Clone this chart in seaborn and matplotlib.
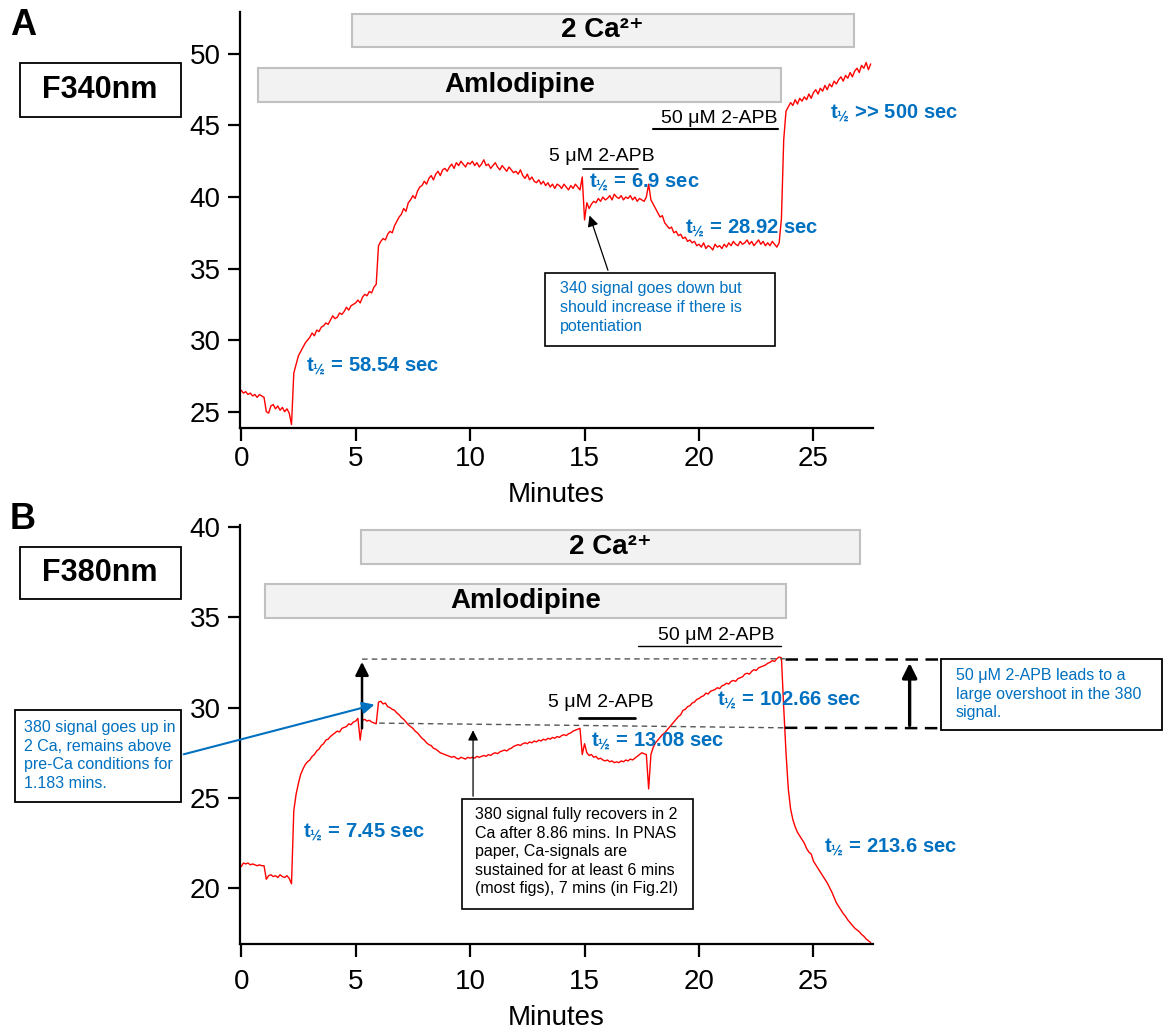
import numpy as np
import pandas as pd
import matplotlib
matplotlib.use("Agg")
import matplotlib.pyplot as plt
from matplotlib.patches import Rectangle
import seaborn as sns

sns.set_style("ticks")
plt.rcParams['font.family'] = ['Liberation Sans', 'DejaVu Sans']
plt.rcParams['mathtext.fontset'] = 'custom'
plt.rcParams['mathtext.rm'] = 'Liberation Sans'
plt.rcParams['mathtext.bf'] = 'Liberation Sans:bold'
plt.rcParams['text.color'] = 'black'
plt.rcParams['axes.labelcolor'] = 'black'
plt.rcParams['xtick.color'] = 'black'
plt.rcParams['ytick.color'] = 'black'

# --- data --- #
minutes = np.round(np.arange(0, 27.55, 0.1), 1)

f340 = [
    26.5, 26.3, 26.4, 26.2, 26.3, 26.1, 26.2, 26.0, 26.2, 26.1,
    26.0, 25.0, 24.9, 25.4, 25.5, 25.2, 25.4, 25.1, 25.3, 25.0,
    25.2, 24.9, 24.1, 27.7, 28.3, 28.9, 29.2, 29.5, 29.8, 30.0,
    30.2, 30.5, 30.3, 30.7, 30.6, 30.9, 31.0, 31.2, 31.1, 31.4,
    31.7, 31.5, 31.6, 31.9, 31.8, 32.0, 32.3, 32.1, 32.4, 32.5,
    32.6, 32.8, 32.6, 33.0, 33.2, 33.1, 33.4, 33.3, 33.7, 33.9,
    36.6, 36.9, 37.1, 37.0, 37.4, 37.6, 37.5, 38.0, 38.3, 38.6,
    38.8, 39.2, 39.0, 39.6, 39.8, 40.1, 39.9, 40.4, 40.7, 40.8,
    41.1, 40.9, 41.3, 41.5, 41.2, 41.6, 41.8, 41.5, 41.9, 42.0,
    41.8, 42.1, 42.3, 42.0, 42.4, 42.2, 42.5, 42.3, 42.1, 42.4,
    42.3, 42.5, 42.2, 42.4, 42.1, 42.3, 42.6, 42.2, 42.3, 42.0,
    42.2, 42.4, 42.1, 41.9, 42.2, 42.0, 41.8, 42.1, 41.9, 41.7,
    41.8, 41.6, 41.9, 41.5, 41.3, 41.6, 41.2, 41.4, 41.1, 41.0,
    41.2, 40.9, 41.1, 40.8, 41.0, 40.7, 40.9, 40.6, 40.9, 40.8,
    40.6, 40.9, 40.7, 40.5, 40.8, 40.6, 40.9, 40.7, 40.5, 41.4,
    38.4, 39.6, 39.2, 39.5, 39.7, 39.6, 39.9, 39.7, 40.0, 39.8,
    39.9, 40.1, 39.8, 40.2, 40.0, 39.9, 40.1, 39.8, 40.0, 39.9,
    40.1, 39.8, 40.0, 39.7, 39.9, 39.8, 39.7, 40.0, 40.9, 39.8,
    39.5, 39.2, 38.9, 38.6, 38.7, 38.2, 38.0, 37.8, 37.9, 37.5,
    37.6, 37.3, 37.4, 37.1, 37.2, 36.9, 37.0, 36.8, 36.9, 36.6,
    36.7, 36.5, 36.8, 36.4, 36.6, 36.5, 36.3, 36.7, 36.5, 36.6,
    36.4, 36.7, 36.5, 36.8, 36.6, 36.9, 36.7, 36.6, 36.9, 36.7,
    36.8, 37.0, 36.7, 36.9, 36.6, 36.8, 37.0, 36.7, 36.9, 36.6,
    36.8, 36.6, 36.9, 36.7, 36.5, 36.8, 38.5, 44.0, 46.0, 46.3,
    46.6, 46.4, 46.8, 46.5, 46.9, 46.7, 47.0, 46.8, 47.2, 46.9,
    47.3, 47.5, 47.2, 47.6, 47.4, 47.8, 47.5, 47.9, 47.7, 48.1,
    47.9, 48.2, 48.4, 48.1, 48.5, 48.3, 48.7, 48.4, 48.8, 49.0,
    48.7, 49.2, 49.0, 49.4, 48.9, 49.3,
]

f380 = [
    21.2, 21.4, 21.35, 21.4, 21.3, 21.35, 21.3, 21.25, 21.3, 21.25,
    21.25, 20.5, 20.7, 20.75, 20.65, 20.7, 20.6, 20.75, 20.65, 20.6,
    20.7, 20.55, 20.25, 24.3, 25.2, 25.8, 26.3, 26.6, 26.85, 27.0,
    27.1, 27.3, 27.4, 27.6, 27.7, 27.9, 28.0, 28.2, 28.25, 28.4,
    28.5, 28.6, 28.7, 28.65, 28.85, 28.9, 28.95, 29.1, 29.05, 29.2,
    29.25, 29.4, 28.2, 29.3, 29.35, 29.25, 29.3, 29.2, 29.15, 29.1,
    30.3, 30.35, 30.2, 30.25, 30.05, 30.0, 29.9, 29.85, 29.7, 29.6,
    29.45, 29.35, 29.2, 29.05, 28.95, 28.85, 28.7, 28.6, 28.45, 28.3,
    28.2, 28.05, 27.95, 27.9, 27.75, 27.7, 27.6, 27.5, 27.45, 27.4,
    27.35, 27.3, 27.25, 27.3, 27.2, 27.15, 27.25, 27.2, 27.15, 27.25,
    27.2, 27.25, 27.2, 27.3, 27.25, 27.3, 27.35, 27.3, 27.4, 27.35,
    27.45, 27.5, 27.45, 27.55, 27.6, 27.65, 27.6, 27.7, 27.75, 27.85,
    27.9, 27.95, 27.9, 28.0, 28.05, 28.0, 28.1, 28.05, 28.15, 28.1,
    28.2, 28.15, 28.25, 28.2, 28.3, 28.25, 28.35, 28.3, 28.4, 28.35,
    28.45, 28.5, 28.45, 28.55, 28.6, 28.7, 28.75, 28.8, 28.85, 27.4,
    28.0, 27.5, 27.35, 27.4, 27.25, 27.3, 27.15, 27.2, 27.1, 27.05,
    27.1, 27.0, 27.05, 26.95, 27.0, 26.95, 27.05, 27.0, 27.1, 27.05,
    27.15, 27.1, 27.2, 27.3, 27.4, 27.5, 27.45, 27.4, 25.5, 27.4,
    27.8, 28.05, 28.2, 28.35, 28.5, 28.6, 28.75, 28.9, 29.05, 29.2,
    29.35, 29.5, 29.6, 29.85, 29.9, 30.05, 30.1, 30.25, 30.3, 30.45,
    30.5, 30.6, 30.65, 30.8, 30.75, 30.9, 30.95, 31.0, 31.1, 31.05,
    31.2, 31.25, 31.35, 31.3, 31.45, 31.5, 31.45, 31.6, 31.65, 31.7,
    31.85, 31.9, 31.85, 32.0, 32.1, 32.05, 32.2, 32.25, 32.3, 32.35,
    32.45, 32.5, 32.6, 32.55, 32.7, 32.8, 32.75, 30.0, 27.5, 25.5,
    24.4, 23.8, 23.4, 23.1, 22.9, 22.7, 22.5, 22.2, 22.0, 21.9,
    21.5, 21.3, 21.1, 20.9, 20.7, 20.5, 20.3, 20.05, 19.8, 19.5,
    19.2, 19.0, 18.8, 18.6, 18.45, 18.25, 18.1, 17.95, 17.8, 17.7,
    17.6, 17.45, 17.35, 17.2, 17.1, 17.0,
]

x_ticks = [0, 5, 10, 15, 20, 25]
a_yticks = [25, 30, 35, 40, 45, 50]
b_yticks = [20, 25, 30, 35, 40]

df = pd.DataFrame({'Minutes': minutes, 'F340': f340, 'F380': f380})

BLUE = '#0070C0'
W, H = 1168, 1036


def fp(x, y):
    # figure pixel -> figure fraction
    return x / W, 1 - y / H


def gray_bar(ax, x0, x1, y0, y1, label):
    ax.add_patch(Rectangle((x0, y0), x1 - x0, y1 - y0, fc='#f2f2f2', ec='#c0c0c0',
                           lw=1.5, clip_on=False, zorder=1))
    ax.text((x0 + x1) / 2, (y0 + y1) / 2, label, ha='center', va='center',
            fontsize=20, fontweight='bold', zorder=2)


def fig_box(fig, x0, y0, x1, y1):
    fx, fy = fp(x0, y1)
    fig.add_artist(Rectangle((fx, fy), (x1 - x0) / W, (y1 - y0) / H, fc='white',
                             ec='black', lw=1.3, transform=fig.transFigure))


def half(val):
    return 't$_{\\mathbf{½}}$' + val


fig = plt.figure(figsize=(W / 100, H / 100), dpi=100)
axA = fig.add_axes([240 / W, 1 - 428 / H, 633 / W, 416 / H])
axB = fig.add_axes([240 / W, 1 - 944 / H, 633 / W, 419 / H])

sns.lineplot(data=df, x='Minutes', y='F340', ax=axA, color='red', lw=1.0, estimator=None)
sns.lineplot(data=df, x='Minutes', y='F380', ax=axB, color='red', lw=1.0, estimator=None)

for ax, yt in [(axA, a_yticks), (axB, b_yticks)]:
    sns.despine(ax=ax)
    for s in ['left', 'bottom']:
        ax.spines[s].set_linewidth(1.6)
        ax.spines[s].set_color('black')
    ax.set_xticks(x_ticks)
    ax.set_yticks(yt)
    ax.tick_params(axis='both', length=9, width=1.6, labelsize=20, color='black',
                   labelcolor='black')
    ax.tick_params(axis='y', pad=5)
    ax.set_ylabel('')
    ax.set_xlim(-0.05, 27.6)
    ax.set_xlabel('Minutes', fontsize=20, labelpad=7, color='black')

axA.tick_params(axis='x', pad=4)
axB.tick_params(axis='x', pad=9)
axA.set_ylim(23.86, 52.93)
axB.set_ylim(16.92, 40.1)

CA = '2 Ca²⁺'

# --- Panel A --- #
gray_bar(axA, 4.84, 26.75, 50.49, 52.8, CA)
gray_bar(axA, 0.74, 23.56, 46.65, 49.02, 'Amlodipine')

axA.text(15.75, 42.8, '5 μM 2-APB', ha='center', va='center', fontsize=14)
axA.plot([14.92, 17.32], [41.96, 41.96], color='black', lw=1.2)
axA.text(20.9, 45.46, '50 μM 2-APB', ha='center', va='center', fontsize=14)
axA.plot([17.98, 23.47], [44.76, 44.76], color='black', lw=1.5)

for x, y, s in [(15.18, 41.06, ' = 6.9 sec'), (19.37, 37.84, ' = 28.92 sec'),
                (25.7, 45.88, ' >> 500 sec'), (2.84, 28.2, ' = 58.54 sec')]:
    axA.text(x, y, half(s), color=BLUE, fontsize=14.5, fontweight='bold',
             ha='left', va='center', clip_on=False)

axA.add_patch(Rectangle((13.26, 29.6), 10.08, 5.1, fc='white', ec='black', lw=1.2,
                        clip_on=False, zorder=3))
axA.text(13.92, 34.1, '340 signal goes down but\nshould increase if there is\npotentiation',
         color=BLUE, fontsize=11.5, ha='left', va='top', linespacing=1.3, zorder=4)
axA.annotate('', xy=(15.18, 38.89), xytext=(16.06, 34.7),
             arrowprops=dict(arrowstyle='-|>', color='black', lw=0.9,
                             mutation_scale=16), zorder=4)

# --- Panel B --- #
gray_bar(axB, 5.24, 27.05, 37.94, 39.82, CA)
gray_bar(axB, 1.05, 23.82, 34.95, 36.83, 'Amlodipine')

axB.text(15.71, 30.3, '5 μM 2-APB', ha='center', va='center', fontsize=14)
axB.plot([14.75, 17.19], [29.42, 29.42], color='black', lw=2.0)
axB.text(20.77, 34.01, '50 μM 2-APB', ha='center', va='center', fontsize=14)
axB.plot([17.32, 23.56], [33.4, 33.4], color='black', lw=1.0)

for x, y, s in [(20.77, 30.42, ' = 102.66 sec'), (15.27, 28.15, ' = 13.08 sec'),
                (2.7, 23.11, ' = 7.45 sec'), (25.44, 22.28, ' = 213.6 sec')]:
    axB.text(x, y, half(s), color=BLUE, fontsize=14.5, fontweight='bold',
             ha='left', va='center', clip_on=False)

# dashed reference levels
axB.plot([5.28, 23.75], [32.68, 32.7], color='#555555', lw=1.0, ls=(0, (4, 3)))
axB.plot([23.75, 30.54], [32.7, 32.7], color='black', lw=1.8, ls=(0, (5, 3)), clip_on=False)
axB.plot([6.03, 23.75], [29.14, 28.88], color='#555555', lw=1.0, ls=(0, (4, 3)))
axB.plot([23.75, 30.54], [28.88, 28.86], color='black', lw=1.8, ls=(0, (5, 3)), clip_on=False)

axB.annotate('', xy=(5.28, 32.68), xytext=(5.28, 28.7),
             arrowprops=dict(arrowstyle='-|>', color='black', lw=1.8, mutation_scale=20))
axB.annotate('', xy=(29.2, 32.62), xytext=(29.2, 28.86),
             arrowprops=dict(arrowstyle='-|>', color='black', lw=2.4, mutation_scale=22),
             annotation_clip=False)
axB.annotate('', xy=(10.13, 28.9), xytext=(10.13, 24.94),
             arrowprops=dict(arrowstyle='-|>', color='black', lw=0.9, mutation_scale=15))

axB.add_patch(Rectangle((9.64, 18.85), 10.08, 6.09, fc='white', ec='black', lw=1.2,
                        clip_on=False, zorder=3))
axB.text(10.2, 24.5, '380 signal fully recovers in 2\nCa after 8.86 mins. In PNAS\n'
         'paper, Ca-signals are\nsustained for at least 6 mins\n(most figs), 7 mins (in Fig.2I)',
         color='black', fontsize=11.5, ha='left', va='top', linespacing=1.3, zorder=4)

# boxes outside the axes
fig_box(fig, 20, 63, 181, 117)
fig.text(*fp(100, 90), 'F340nm', fontsize=22, fontweight='bold', ha='center', va='center')
fig_box(fig, 20, 547, 181, 599)
fig.text(*fp(100, 573), 'F380nm', fontsize=22, fontweight='bold', ha='center', va='center')
fig.text(*fp(10, 8), 'A', fontsize=26, fontweight='bold', ha='left', va='top')
fig.text(*fp(10, 502), 'B', fontsize=26, fontweight='bold', ha='left', va='top')

fig_box(fig, 15, 710, 181, 802)
fig.text(*fp(24, 720), '380 signal goes up in\n2 Ca, remains above\npre-Ca conditions for\n1.183 mins.',
         color=BLUE, fontsize=11.5, ha='left', va='top', linespacing=1.3)
axB.annotate('', xy=(5.94, 30.2), xycoords='data', xytext=fp(181, 755),
             textcoords='figure fraction',
             arrowprops=dict(arrowstyle='-|>', color=BLUE, lw=1.5, mutation_scale=18),
             annotation_clip=False)

fig_box(fig, 941, 659, 1162, 730)
fig.text(*fp(956, 668), '50 μM 2-APB leads to a\nlarge overshoot in the 380\nsignal.',
         color=BLUE, fontsize=11.5, ha='left', va='top', linespacing=1.3)

fig.savefig('out.png', dpi=100)
